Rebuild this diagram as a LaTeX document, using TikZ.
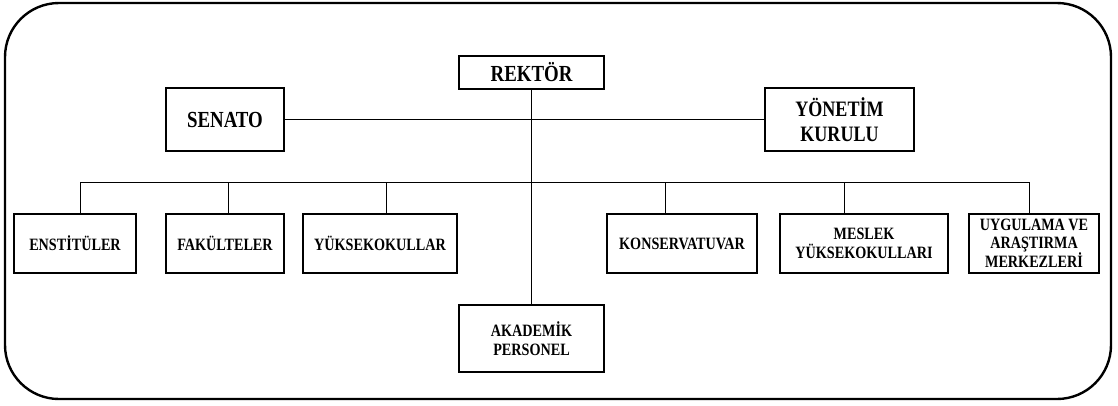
\documentclass[tikz,border=0pt]{standalone}
\usepackage{fontspec}
\setmainfont{Liberation Serif}[FakeStretch=0.82]
\begin{document}
\begin{tikzpicture}[x=1pt,y=-1pt,
  box/.style={draw, line width=1.1pt, align=center, inner sep=1pt, font=\bfseries},
  big/.style={box, font=\bfseries\fontsize{23}{25}\selectfont},
  small/.style={box, font=\bfseries\fontsize{17.3}{18.5}\selectfont, minimum height=59pt},
  link/.style={line width=1pt}]
\useasboundingbox (0,0) rectangle (1118,405);
\draw[line width=2.4pt, rounded corners=54pt] (5,3) rectangle (1111,399);

\node[big, minimum width=145pt, minimum height=33pt] (rektor) at (531.5,72.5) {REKTÖR};
\node[big, minimum width=118pt, minimum height=63pt] (senato) at (225,119.5) {SENATO};
\node[big, minimum width=149pt, minimum height=63pt, font=\bfseries\fontsize{22}{24.5}\selectfont] (yonetim) at (839.5,119.5) {YÖNETİM\\KURULU};

\node[small, minimum width=122pt] (ens) at (75,243.5) {ENSTİTÜLER};
\node[small, minimum width=118pt] (fak) at (225,243.5) {FAKÜLTELER};
\node[small, minimum width=154pt] (yuk) at (380,243.5) {YÜKSEKOKULLAR};
\node[small, minimum width=150pt] (kon) at (682,243.5) {KONSERVATUVAR};
\node[small, minimum width=168pt] (mes) at (864,243.5) {MESLEK\\YÜKSEKOKULLARI};
\node[small, minimum width=130pt, inner sep=0pt, font=\bfseries\fontsize{17.3}{17.8}\selectfont] (uyg) at (1034,243.5) {UYGULAMA VE\\ARAŞTIRMA\\MERKEZLERİ};

\node[small, minimum width=145pt, minimum height=67pt] (aka) at (531.5,338.5) {AKADEMİK\\PERSONEL};

\draw[link] (rektor.south) -- (aka.north);
\draw[link] (senato.east) -- (yonetim.west);

\coordinate (b1) at (80,182);
\coordinate (b2) at (228,182);
\coordinate (b3) at (386,182);
\coordinate (b4) at (665,182);
\coordinate (b5) at (844,182);
\coordinate (b6) at (1029,182);
\draw[link] (b1) -- (b6);
\draw[link] (b1) -- (b1 |- ens.north);
\draw[link] (b2) -- (b2 |- fak.north);
\draw[link] (b3) -- (b3 |- yuk.north);
\draw[link] (b4) -- (b4 |- kon.north);
\draw[link] (b5) -- (b5 |- mes.north);
\draw[link] (b6) -- (b6 |- uyg.north);
\end{tikzpicture}
\end{document}
